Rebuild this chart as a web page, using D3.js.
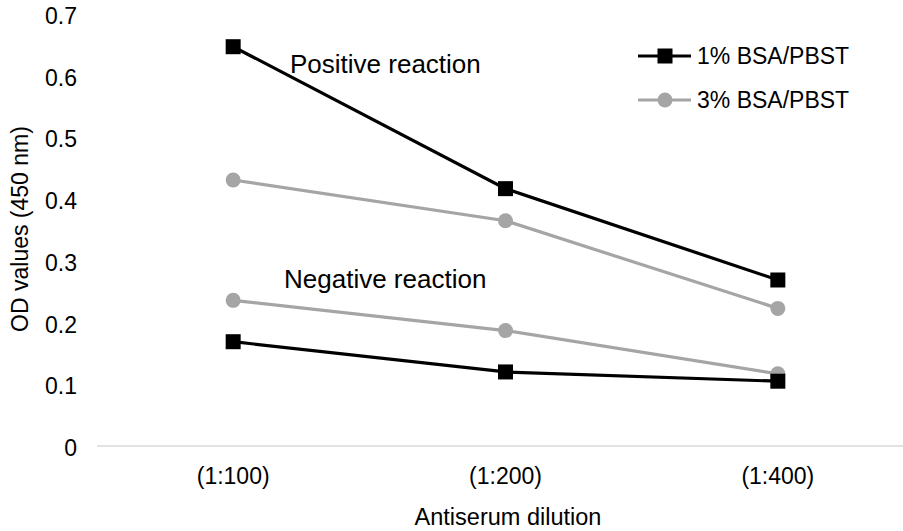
<!DOCTYPE html>
<html>
<head>
<meta charset="utf-8">
<script src="https://cdn.jsdelivr.net/npm/d3@7"></script>
<style>
  body { margin: 0; background: #fff; }
  svg { display: block; font-family: "Liberation Sans", Arial, sans-serif; }
</style>
</head>
<body>
<svg id="chart" width="903" height="531"></svg>
<script>
const dilutions = ["(1:100)", "(1:200)", "(1:400)"];
const yTicks = [0, 0.1, 0.2, 0.3, 0.4, 0.5, 0.6, 0.7];

// positive / negative reactions for each blocking buffer
const bsa1Positive = [0.647, 0.417, 0.269];
const bsa3Positive = [0.431, 0.365, 0.223];
const bsa3Negative = [0.236, 0.187, 0.117];
const bsa1Negative = [0.169, 0.120, 0.105];

const seriesNames = ["1% BSA/PBST", "3% BSA/PBST"];

const svg = d3.select("#chart");
const black = "#000000";
const gray = "#a5a5a5";

const x = d3.scalePoint().domain(dilutions).range([97, 914]).padding(0.5);
const y = d3.scaleLinear().domain([0, 0.7]).range([446, 14]);

// baseline
svg.append("line")
  .attr("x1", 97).attr("x2", 903)
  .attr("y1", y(0)).attr("y2", y(0))
  .attr("stroke", "#d9d9d9").attr("stroke-width", 1.5);

// y tick labels
svg.selectAll(".ytick")
  .data(yTicks)
  .enter()
  .append("text")
  .attr("class", "ytick")
  .attr("x", 77)
  .attr("y", (d) => y(d) + 2)
  .attr("dy", "0.35em")
  .attr("text-anchor", "end")
  .attr("font-size", 23)
  .attr("fill", "#000")
  .text((d) => (d === 0 ? "0" : d3.format(".1f")(d)));

// x tick labels
svg.selectAll(".xtick")
  .data(dilutions)
  .enter()
  .append("text")
  .attr("class", "xtick")
  .attr("x", (d) => x(d))
  .attr("y", 476)
  .attr("dy", "0.35em")
  .attr("text-anchor", "middle")
  .attr("font-size", 23)
  .text((d) => d);

svg.append("text")
  .attr("x", 508).attr("y", 517)
  .attr("dy", "0.35em")
  .attr("text-anchor", "middle")
  .attr("font-size", 23.5)
  .text("Antiserum dilution");

svg.append("text")
  .attr("transform", "translate(20,229) rotate(-90)")
  .attr("dy", "0.35em")
  .attr("text-anchor", "middle")
  .attr("font-size", 23)
  .text("OD values (450 nm)");

const lineGen = d3.line()
  .x((d, i) => x(dilutions[i]))
  .y((d) => y(d));

const series = [
  { values: bsa3Positive, color: gray, marker: "circle" },
  { values: bsa3Negative, color: gray, marker: "circle" },
  { values: bsa1Positive, color: black, marker: "square" },
  { values: bsa1Negative, color: black, marker: "square" },
];

function drawMarker(g, shape, color, cx, cy) {
  if (shape === "square") {
    g.append("rect")
      .attr("x", cx - 7.5).attr("y", cy - 7.5)
      .attr("width", 15).attr("height", 15)
      .attr("fill", color);
  } else {
    g.append("circle")
      .attr("cx", cx).attr("cy", cy)
      .attr("r", 7.5)
      .attr("fill", color);
  }
}

series.forEach((s) => {
  const g = svg.append("g");
  g.append("path")
    .datum(s.values)
    .attr("d", lineGen)
    .attr("fill", "none")
    .attr("stroke", s.color)
    .attr("stroke-width", 3.2);
  s.values.forEach((v, i) => drawMarker(g, s.marker, s.color, x(dilutions[i]), y(v)));
});

// annotations
svg.append("text")
  .attr("x", 290).attr("y", 64)
  .attr("dy", "0.35em")
  .attr("font-size", 26)
  .text("Positive reaction");

svg.append("text")
  .attr("x", 284).attr("y", 279)
  .attr("dy", "0.35em")
  .attr("font-size", 26)
  .text("Negative reaction");

// legend
const legend = svg.append("g");
[
  { name: seriesNames[0], color: black, marker: "square", y: 56 },
  { name: seriesNames[1], color: gray, marker: "circle", y: 100 },
].forEach((l) => {
  legend.append("line")
    .attr("x1", 638).attr("x2", 691)
    .attr("y1", l.y).attr("y2", l.y)
    .attr("stroke", l.color).attr("stroke-width", 3.2);
  drawMarker(legend, l.marker, l.color, 665, l.y);
  legend.append("text")
    .attr("x", 697).attr("y", l.y)
    .attr("dy", "0.35em")
    .attr("font-size", 23)
    .text(l.name);
});
</script>
</body>
</html>
